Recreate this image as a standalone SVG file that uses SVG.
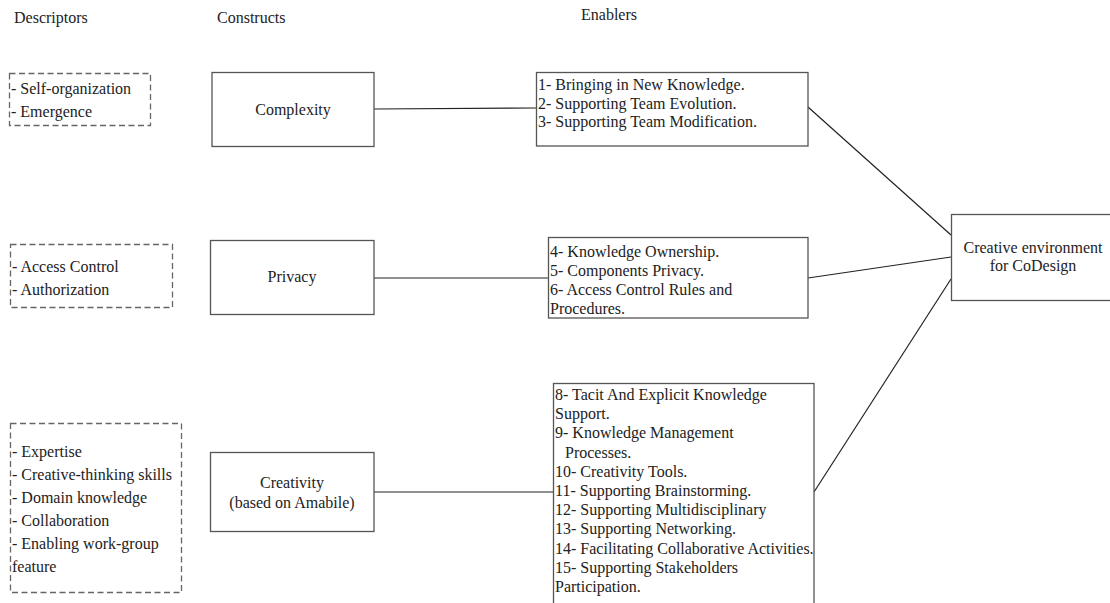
<svg xmlns="http://www.w3.org/2000/svg" width="1110" height="603" viewBox="0 0 1110 603">
  <style>
    text { font-family: "Liberation Serif", "Times New Roman", serif; font-size: 16px; fill: #222; }
    .mid { text-anchor: middle; }
    .box { fill: #fff; stroke: #555; stroke-width: 1.3; }
    .dash { fill: none; stroke: #666; stroke-width: 1.3; stroke-dasharray: 6 3.5; }
    .link { stroke: #222; stroke-width: 1.2; fill: none; }
  </style>

  <!-- column headings -->
  <g id="headings">
    <text x="14" y="23">Descriptors</text>
    <text x="217" y="23">Constructs</text>
    <text x="581" y="20">Enablers</text>
  </g>

  <!-- connectors -->
  <g id="connectors">
    <line class="link" x1="374" y1="109" x2="536" y2="108"/>
    <line class="link" x1="374" y1="278" x2="548" y2="278"/>
    <line class="link" x1="374" y1="492" x2="553" y2="492"/>
    <line class="link" x1="808" y1="107" x2="951" y2="235"/>
    <line class="link" x1="808" y1="278" x2="951" y2="257"/>
    <line class="link" x1="814" y1="492" x2="951" y2="279"/>
  </g>

  <!-- descriptors -->
  <g id="desc-complexity">
    <rect class="dash" x="9.5" y="73.5" width="141" height="52"/>
    <text x="11" y="94">- Self-organization</text>
    <text x="11" y="117">- Emergence</text>
  </g>
  <g id="desc-privacy">
    <rect class="dash" x="10.5" y="244.5" width="162" height="63"/>
    <text x="12" y="272">- Access Control</text>
    <text x="12" y="295">- Authorization</text>
  </g>
  <g id="desc-creativity">
    <rect class="dash" x="10.5" y="423.5" width="171" height="169"/>
    <text x="12" y="457">- Expertise</text>
    <text x="12" y="480">- Creative-thinking skills</text>
    <text x="12" y="503">- Domain knowledge</text>
    <text x="12" y="526">- Collaboration</text>
    <text x="12" y="549">- Enabling work-group</text>
    <text x="12" y="572">feature</text>
  </g>

  <!-- constructs -->
  <g id="complexity">
    <rect class="box" x="212" y="72.5" width="162" height="74"/>
    <text class="mid" x="293" y="115">Complexity</text>
  </g>
  <g id="privacy">
    <rect class="box" x="210.5" y="240.5" width="163.5" height="74"/>
    <text class="mid" x="292" y="282">Privacy</text>
  </g>
  <g id="creativity">
    <rect class="box" x="210.5" y="452.5" width="163.5" height="79"/>
    <text class="mid" x="292" y="488">Creativity</text>
    <text class="mid" x="292" y="508">(based on Amabile)</text>
  </g>

  <!-- enablers -->
  <g id="enablers-complexity">
    <rect class="box" x="536.5" y="72.5" width="271.5" height="73.5"/>
    <text x="538" y="90">1- Bringing in New Knowledge.</text>
    <text x="538" y="108.5">2- Supporting Team Evolution.</text>
    <text x="538" y="127">3- Supporting Team Modification.</text>
  </g>
  <g id="enablers-privacy">
    <rect class="box" x="548.5" y="237.5" width="259.5" height="80.5"/>
    <text x="550" y="257">4- Knowledge Ownership.</text>
    <text x="550" y="276">5- Components Privacy.</text>
    <text x="550" y="295">6- Access Control Rules and</text>
    <text x="550" y="314">Procedures.</text>
  </g>
  <g id="enablers-creativity">
    <rect class="box" x="553.5" y="383.5" width="260.5" height="230"/>
    <text x="555" y="400">8- Tacit And Explicit Knowledge</text>
    <text x="555" y="419.2">Support.</text>
    <text x="555" y="438.4">9- Knowledge Management</text>
    <text x="565" y="457.6">Processes.</text>
    <text x="555" y="476.8">10- Creativity Tools.</text>
    <text x="555" y="496">11- Supporting Brainstorming.</text>
    <text x="555" y="515.2">12- Supporting Multidisciplinary</text>
    <text x="555" y="534.4">13- Supporting Networking.</text>
    <text x="555" y="553.6">14- Facilitating Collaborative Activities.</text>
    <text x="555" y="572.8">15- Supporting Stakeholders</text>
    <text x="555" y="592">Participation.</text>
  </g>

  <!-- goal -->
  <g id="creative-environment">
    <rect class="box" x="951.5" y="214.5" width="170" height="86"/>
    <text class="mid" x="1033" y="253">Creative environment</text>
    <text class="mid" x="1033" y="271">for CoDesign</text>
  </g>
</svg>
